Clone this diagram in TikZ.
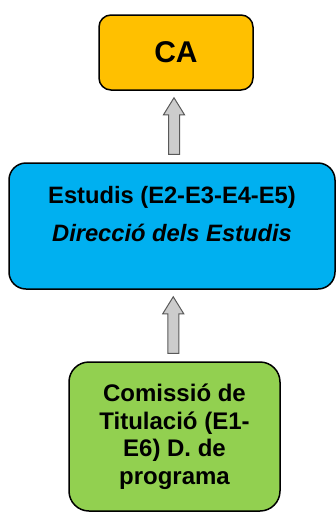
\documentclass[tikz,border=0pt]{standalone}
\usepackage{fontspec}
\setmainfont{Liberation Sans}
\usepackage{tikz}
\usetikzlibrary{calc}
\definecolor{caorange}{HTML}{FFC000}
\definecolor{estblue}{HTML}{00B0F0}
\definecolor{titgreen}{HTML}{92D050}
\tikzset{
    mybox/.style={rectangle, rounded corners=12pt, draw=black, line width=1.5pt, inner sep=0pt, align=center, text centered},
    pil/.style={draw=gray!70!black, fill=gray!40, line width=1pt,
      to path={let \p1=(\tikztostart), \p2=(\tikztotarget), \p3=($(\tikztostart)!.5!(\tikztotarget)$) in
        (\x3-5.5pt,\y1+8pt) -- (\x3-5.5pt,\y2-24pt) -- (\x3-10.5pt,\y2-24pt) -- (\x3,\y2-7pt)
        -- (\x3+10.5pt,\y2-24pt) -- (\x3+5.5pt,\y2-24pt) -- (\x3+5.5pt,\y1+8pt) -- cycle}}
}

\begin{document}
\begin{tikzpicture}[x=1pt, y=-1pt]
    \useasboundingbox (0,0) rectangle (336,512);
    \node[mybox, fill=caorange, minimum width=154pt, minimum height=75pt,
      font=\bfseries\fontsize{30}{36}\selectfont] (ca) at (176,52.5) {CA};
    \node[mybox, fill=estblue, minimum width=326pt, minimum height=126pt, rounded corners=17pt] (estudis) at (172,226)
      {\parbox[c][126pt][t]{324pt}{\centering\bfseries\fontsize{23.7}{38}\selectfont
      \vspace*{23pt}Estudis (E2-E3-E4-E5)\\
      \textit{Direcció dels Estudis}}};
    \node[mybox, fill=titgreen, minimum width=211pt, minimum height=149pt, rounded corners=20pt,
      font=\bfseries\fontsize{24}{27.5}\selectfont] (titulacio) at (174.5,436.5)
      {Comissió de\\ Titulació (E1-\\ E6) D. de\\ programa};
    % fletxes
    \draw[pil] (estudis.north) to (ca.south);
    \draw[pil] (titulacio.north) to (estudis.south);
\end{tikzpicture}
\end{document}
